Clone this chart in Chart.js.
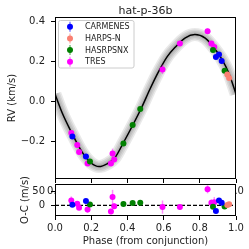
<!DOCTYPE html>
<html>
<head>
<meta charset="utf-8">
<script src="https://cdn.jsdelivr.net/npm/chart.js@4.4.0/dist/chart.umd.min.js"></script>
<style>
  html, body { margin: 0; padding: 0; background: #fff; }
  #wrap { position: relative; width: 249px; height: 249px; }
  #wrap canvas { position: absolute; left: 0; top: 0; }
</style>
</head>
<body>
<div id="wrap">
  <canvas id="rvChart" width="249" height="249"></canvas>
  <canvas id="ocChart" width="249" height="249"></canvas>
</div>
<script>
const title = 'hat-p-36b'
const xTicks = [0, 0.2, 0.4, 0.6, 0.8, 1.0]
const rvTicks = [-0.2, 0.0, 0.2, 0.4]
const ocTicks = [0, 50]

// model curve (km/s)
const modelPhase = [0, 0.04, 0.09, 0.15, 0.2, 0.243, 0.29, 0.33, 0.38, 0.43, 0.48, 0.525, 0.57, 0.62, 0.665, 0.72, 0.773, 0.83, 0.875, 0.92, 0.96, 1.0]
const modelRV = [0.035, -0.06, -0.155, -0.256, -0.31, -0.328, -0.313, -0.285, -0.205, -0.12, -0.03, 0.06, 0.143, 0.222, 0.27, 0.316, 0.332, 0.314, 0.27, 0.212, 0.14, 0.035]

// instruments: phase, RV (km/s), O-C (m/s), error (m/s)
const carmenesPhase = [0.096, 0.171, 0.889, 0.906, 0.921]
const carmenesRV = [-0.177, -0.277, 0.22, 0.232, 0.2]
const carmenesOC = [2, 15, -20, 17, 9]
const carmenesErr = [4, 4, 5, 5, 5]

const harpsnPhase = [0.952, 0.962]
const harpsnRV = [0.133, 0.115]
const harpsnOC = [1, 4]
const harpsnErr = [3, 3]

const harpsnxPhase = [0.193, 0.378, 0.429, 0.471, 0.873, 0.937]
const harpsnxRV = [-0.303, -0.213, -0.12, -0.04, 0.255, 0.151]
const harpsnxOC = [3, 5, 8, 9, -5, -4]
const harpsnxErr = [3, 3, 3, 3, 3, 3]

const tresPhase = [0.09, 0.123, 0.133, 0.18, 0.309, 0.318, 0.327, 0.594, 0.69, 0.843, 0.864, 0.88]
const tresRV = [-0.16, -0.22, -0.255, -0.313, -0.313, -0.263, -0.293, 0.158, 0.287, 0.349, 0.287, 0.27]
const tresOC = [17, 6, -8, -14, -21, 29, -3, -6, -6, 56, 9, 11]
const tresErr = [14, 8, 8, 12, 10, 25, 10, 23, 10, 14, 12, 18]

const instruments = [
  { label: 'CARMENES', color: '#0000ff', bar: 'rgba(0,0,255,0.5)', phase: carmenesPhase, rv: carmenesRV, oc: carmenesOC, err: carmenesErr },
  { label: 'HARPS-N', color: '#fa8072', bar: 'rgba(250,128,114,0.5)', phase: harpsnPhase, rv: harpsnRV, oc: harpsnOC, err: harpsnErr },
  { label: 'HASRPSNX', color: '#008000', bar: 'rgba(0,128,0,0.5)', phase: harpsnxPhase, rv: harpsnxRV, oc: harpsnxOC, err: harpsnxErr },
  { label: 'TRES', color: '#ff00ff', bar: 'rgba(255,0,255,0.45)', phase: tresPhase, rv: tresRV, oc: tresOC, err: tresErr }
]

Chart.defaults.font.family = "'DejaVu Sans', sans-serif"
Chart.defaults.font.size = 10
Chart.defaults.color = '#222'

const textColor = '#222'

// vertical error bars, drawn just under each instrument's markers
const errorBars = {
  id: 'errorBars',
  beforeDatasetDraw(chart, args) {
    const ds = chart.data.datasets[args.index]
    if (!ds.errs) return
    const ctx = chart.ctx
    const y = chart.scales.y
    ctx.save()
    ctx.strokeStyle = ds.barColor
    ctx.lineWidth = 1.5
    args.meta.data.forEach((pt, i) => {
      const v = ds.data[i].y
      const e = ds.errs[i]
      ctx.beginPath()
      ctx.moveTo(pt.x, y.getPixelForValue(v - e))
      ctx.lineTo(pt.x, y.getPixelForValue(v + e))
      ctx.stroke()
    })
    ctx.restore()
  }
}

const frame = {
  id: 'frame',
  beforeDraw(chart, args, opts) {
    if (!opts.fill) return
    const a = chart.chartArea
    chart.ctx.save()
    chart.ctx.fillStyle = '#fff'
    chart.ctx.fillRect(a.left, a.top, a.right - a.left, a.bottom - a.top)
    chart.ctx.restore()
  },
  afterDraw(chart) {
    const a = chart.chartArea
    const ctx = chart.ctx
    ctx.save()
    ctx.strokeStyle = '#000'
    ctx.lineWidth = 1
    ctx.strokeRect(a.left + 0.5, a.top + 0.5, a.right - a.left - 1, a.bottom - a.top - 1)
    ctx.restore()
  }
}

const titleAndLegend = {
  id: 'titleAndLegend',
  afterDraw(chart) {
    const ctx = chart.ctx
    const a = chart.chartArea
    ctx.save()
    ctx.fillStyle = textColor
    ctx.font = "11px 'DejaVu Sans'"
    ctx.textAlign = 'center'
    ctx.textBaseline = 'alphabetic'
    ctx.fillText(title, (a.left + a.right) / 2, 13.5)

    // legend box
    ctx.beginPath()
    ctx.roundRect(58.5, 20.5, 75.5, 47.5, 2)
    ctx.fillStyle = 'rgba(255,255,255,0.8)'
    ctx.fill()
    ctx.strokeStyle = '#cccccc'
    ctx.lineWidth = 1
    ctx.stroke()

    ctx.font = "8px 'DejaVu Sans'"
    ctx.textAlign = 'left'
    ctx.textBaseline = 'middle'
    instruments.forEach((ins, i) => {
      const yy = 26.7 + i * 11.7
      ctx.strokeStyle = ins.bar
      ctx.lineWidth = 1.5
      ctx.beginPath()
      ctx.moveTo(70, yy - 5)
      ctx.lineTo(70, yy + 5)
      ctx.stroke()
      ctx.fillStyle = ins.color
      ctx.beginPath()
      ctx.arc(70, yy, 3, 0, Math.PI * 2)
      ctx.fill()
      ctx.fillStyle = textColor
      ctx.fillText(ins.label, 85, yy + 0.5)
    })
    ctx.restore()
  }
}

const signed = v => (v < 0 ? '\u2212' : '') + Math.abs(v).toFixed(1)

const tickGrid = { drawOnChartArea: false, color: '#000', tickLength: 4, tickWidth: 1 }

const modelPoints = modelPhase.map((p, i) => ({ x: p, y: modelRV[i] }))
const bandWidths = [13, 10, 7, 4]

const pointSets = (key, scale) => instruments.map(ins => ({
  label: ins.label,
  data: ins.phase.map((p, i) => ({ x: p, y: ins[key][i] })),
  errs: ins.err.map(e => e * scale),
  barColor: ins.bar,
  backgroundColor: ins.color,
  borderColor: ins.color,
  pointRadius: 3,
  pointBorderWidth: 0,
  order: 0,
  clip: 0
}))

new Chart(document.getElementById('rvChart'), {
  type: 'scatter',
  data: {
    datasets: [
      ...pointSets('rv', 0.001),
      { data: modelPoints, showLine: true, borderColor: '#000', borderWidth: 1.5, pointRadius: 0, cubicInterpolationMode: 'monotone', order: 1, clip: 0 },
      ...bandWidths.map((w, k) => ({
        data: modelPoints, showLine: true, borderColor: 'rgba(0,0,0,0.085)', borderWidth: w,
        pointRadius: 0, cubicInterpolationMode: 'monotone', order: 2 + k, clip: 0
      }))
    ]
  },
  options: {
    responsive: false,
    animation: false,
    devicePixelRatio: 1,
    layout: { padding: { top: 17, right: 13, left: 0, bottom: 0 } },
    plugins: { legend: { display: false }, tooltip: { enabled: false }, frame: { fill: false } },
    scales: {
      x: {
        type: 'linear', min: 0, max: 1,
        afterBuildTicks: s => { s.ticks = xTicks.map(v => ({ value: v })) },
        afterFit: s => { s.height = 70 },
        ticks: { padding: 2, maxRotation: 0, callback: v => v.toFixed(1) },
        grid: tickGrid,
        border: { display: false }
      },
      y: {
        min: -0.39, max: 0.42,
        afterBuildTicks: s => { s.ticks = rvTicks.map(v => ({ value: v })) },
        afterFit: s => { s.width = 55 },
        ticks: { padding: 6, callback: signed },
        grid: tickGrid,
        border: { display: false },
        title: { display: true, text: 'RV (km/s)', color: textColor, padding: { top: 6, bottom: 0 } }
      }
    }
  },
  plugins: [frame, errorBars, titleAndLegend]
})

new Chart(document.getElementById('ocChart'), {
  type: 'scatter',
  data: {
    datasets: [
      ...pointSets('oc', 1),
      { data: [{ x: 0, y: 0 }, { x: 1, y: 0 }], showLine: true, borderColor: '#000', borderWidth: 1.3, borderDash: [4, 2], pointRadius: 0, order: 1, clip: 0 }
    ]
  },
  options: {
    responsive: false,
    animation: false,
    devicePixelRatio: 1,
    layout: { padding: { top: 184, right: 13, left: 0, bottom: 0 } },
    plugins: { legend: { display: false }, tooltip: { enabled: false }, frame: { fill: true } },
    scales: {
      x: {
        type: 'linear', min: 0, max: 1,
        afterBuildTicks: s => { s.ticks = xTicks.map(v => ({ value: v })) },
        afterFit: s => { s.height = 33 },
        ticks: { padding: 2, maxRotation: 0, callback: v => v.toFixed(1) },
        grid: tickGrid,
        border: { display: false },
        title: { display: true, text: 'Phase (from conjunction)', color: textColor, padding: { top: 0, bottom: 2 } }
      },
      y: {
        min: -37, max: 74.5,
        afterBuildTicks: s => { s.ticks = ocTicks.map(v => ({ value: v })) },
        afterFit: s => { s.width = 55 },
        ticks: { padding: 6, callback: v => String(v) },
        grid: tickGrid,
        border: { display: false },
        title: { display: true, text: 'O-C (m/s)', color: textColor, padding: { top: 19, bottom: 0 } }
      }
    }
  },
  plugins: [frame, errorBars]
})
</script>
</body>
</html>
